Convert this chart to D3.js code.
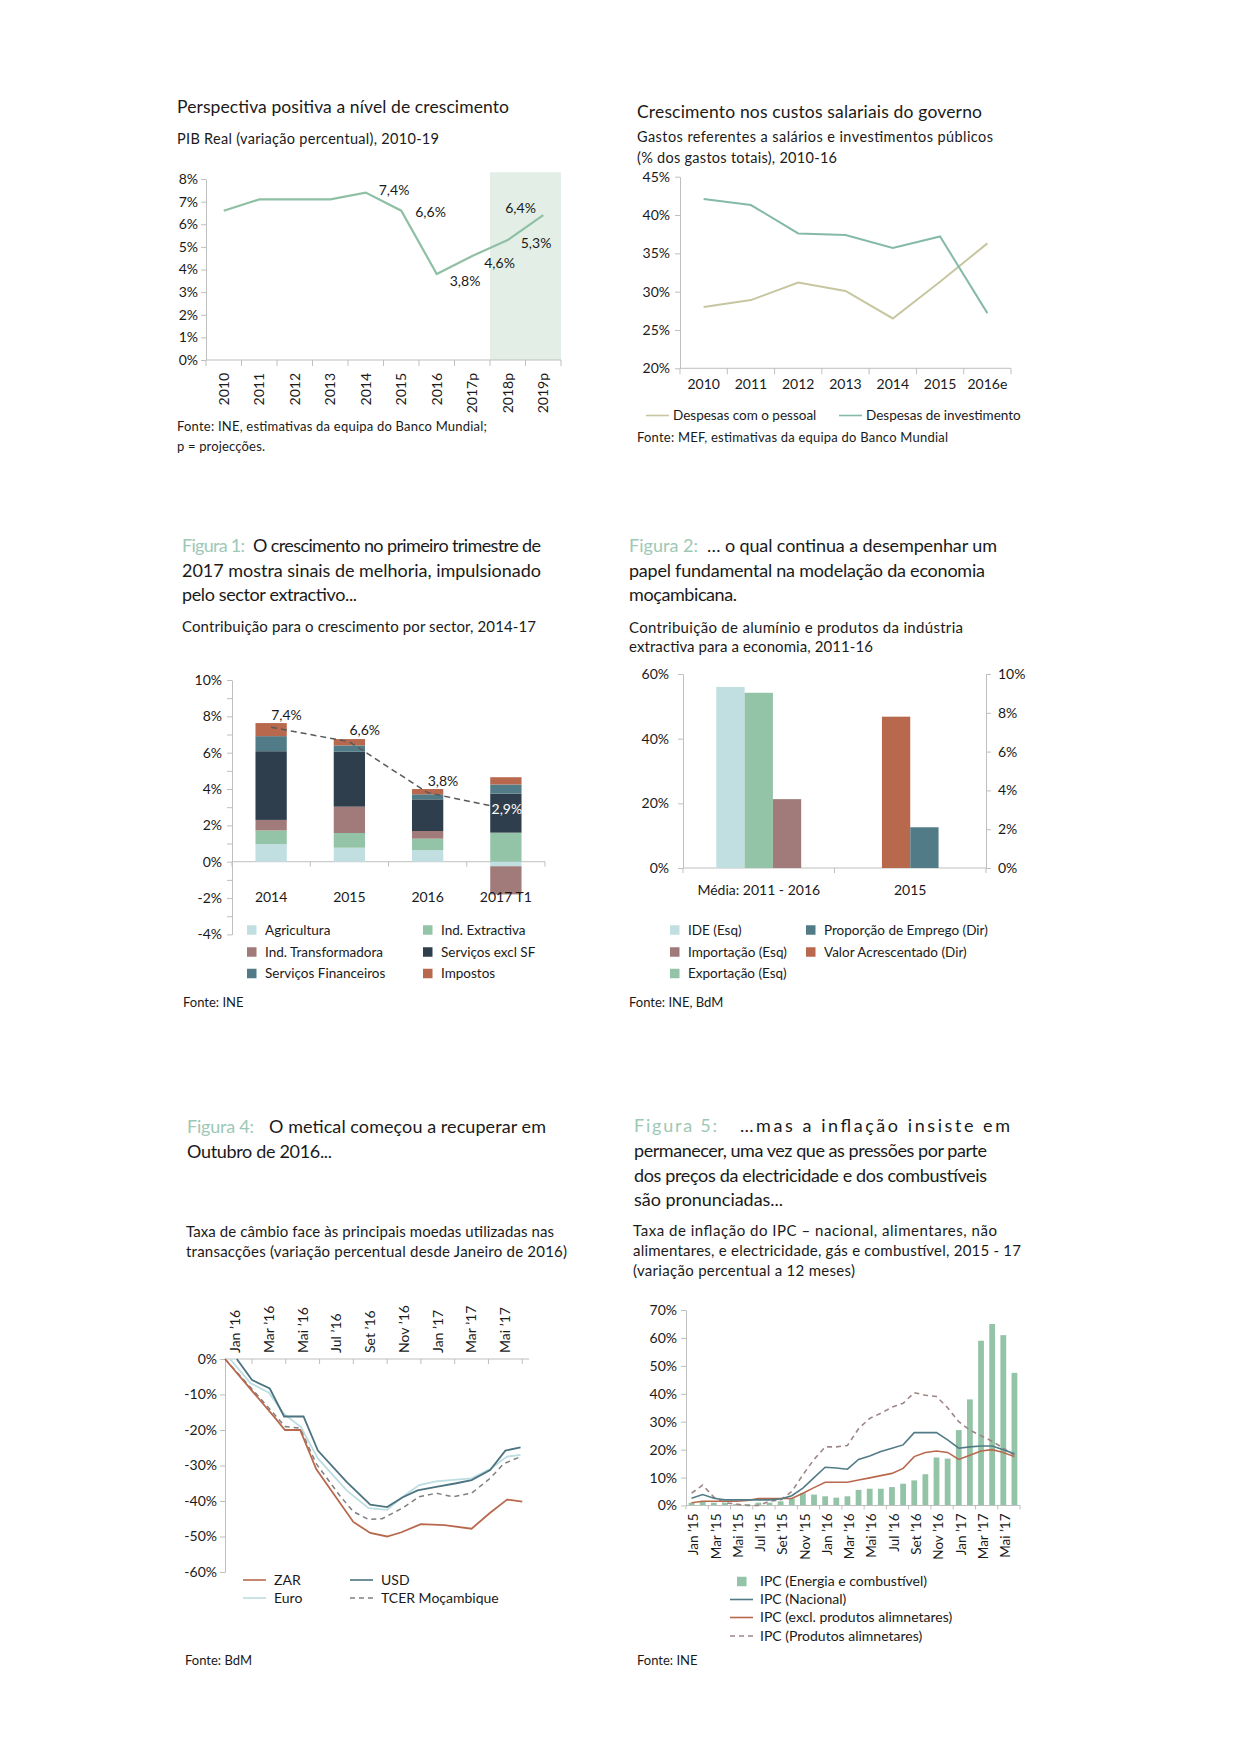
<!DOCTYPE html>
<html lang="pt">
<head>
<meta charset="utf-8">
<title>Moçambique - gráficos</title>
<script src="https://d3js.org/d3.v7.min.js"></script>
<style>
  body { margin: 0; background: #fff; }
  svg text { font-family: Lato, "Open Sans", sans-serif; }
</style>
</head>
<body>
<script>
// ---------------- data ----------------
// PIB real
const pibYears = ['2010', '2011', '2012', '2013', '2014', '2015', '2016', '2017p', '2018p', '2019p']
const pibValues = [6.6, 7.1, 7.1, 7.1, 7.4, 6.6, 3.8, 4.6, 5.3, 6.4]
const pibLabels = [null, null, null, null, '7,4%', '6,6%', '3,8%', '4,6%', '5,3%', '6,4%']
const pibTicks = [0, 1, 2, 3, 4, 5, 6, 7, 8]

// custos salariais
const salYears = ['2010', '2011', '2012', '2013', '2014', '2015', '2016e']
const salPessoal = [28.0, 28.9, 31.2, 30.1, 26.5, 31.3, 36.3]
const salInvest = [42.1, 41.3, 37.6, 37.4, 35.7, 37.2, 27.2]
const salTicks = [20, 25, 30, 35, 40, 45]

// Figura 1 - contribuição por sector
const secYears = ['2014', '2015', '2016', '2017 T1']
const sectors = ['Agricultura', 'Ind. Extractiva', 'Ind. Transformadora', 'Serviços excl SF', 'Serviços Financeiros', 'Impostos']
const secAgri = [0.97, 0.77, 0.64, -0.25]
const secExtr = [0.75, 0.81, 0.63, 1.6]
const secTransf = [0.58, 1.45, 0.42, -1.55]
const secServ = [3.78, 3.02, 1.74, 2.15]
const secFin = [0.83, 0.35, 0.28, 0.5]
const secImp = [0.72, 0.35, 0.29, 0.4]
const secTotal = [7.4, 6.6, 3.8, 2.9]
const secTotalLabels = ['7,4%', '6,6%', '3,8%', '2,9%']
const secTicks = [-4, -3, -2, -1, 0, 1, 2, 3, 4, 5, 6, 7, 8, 9, 10]

// Figura 2 - alumínio e indústria extractiva
const aluGroups = ['Média: 2011 - 2016', '2015']
const aluLeftSeries = ['IDE (Esq)', 'Exportação (Esq)', 'Importação (Esq)']
const aluLeftValues = [56.0, 54.2, 21.3]      // Média 2011-2016, eixo esquerdo
const aluRightSeries = ['Valor Acrescentado (Dir)', 'Proporção de Emprego (Dir)']
const aluRightValues = [7.8, 2.1]             // 2015, eixo direito
const aluLeftTicks = [0, 20, 40, 60]
const aluRightTicks = [0, 2, 4, 6, 8, 10]

// Figura 4 - taxa de câmbio (meses desde Jan 2016, variação %)
const fxMonthLabels = ['Jan ’16', 'Mar ’16', 'Mai ’16', 'Jul ’16', 'Set ’16', 'Nov ’16', 'Jan ’17', 'Mar ’17', 'Mai ’17']
const fxZAR = [[0, 0], [1, -5.6], [2, -11.2], [3, -16.8], [3.55, -20], [4.45, -20], [5.4, -31], [6.8, -40.5], [7.6, -45.9], [8.6, -49], [9.6, -50], [10.45, -48.8], [11.6, -46.5], [13, -46.8], [14.6, -47.8], [15.7, -43.3], [16.7, -39.6], [17.6, -40.2]]
const fxUSD = [[0.7, 0], [1.6, -5.9], [2.65, -8.3], [3.5, -16.2], [4.65, -16.2], [5.5, -25.8], [7.2, -34.6], [8.6, -41], [9.6, -41.7], [10.5, -39], [11.4, -37], [12.5, -36], [13.7, -35], [14.6, -34.1], [15.7, -31.3], [16.6, -25.8], [17.5, -24.9]]
const fxEuro = [[0.3, 0], [1.5, -6.8], [2.6, -9.5], [3.5, -15.5], [4.5, -19.2], [5.5, -28], [7.2, -37], [8.5, -42], [9.6, -42.5], [10.6, -38.5], [11.5, -35.5], [12.5, -34.5], [13.7, -34], [14.6, -33.6], [15.7, -31], [16.7, -27.5], [17.5, -27]]
const fxTCER = [[0, 0], [1, -5.3], [2, -10.6], [3, -16], [3.55, -19], [4.45, -19.5], [5.4, -29.5], [6.8, -38.5], [7.6, -43], [8.5, -45.2], [9.3, -45], [10.5, -42], [11.5, -38.8], [12.5, -37.8], [13.5, -38.8], [14.6, -37.8], [15.7, -33.6], [16.5, -29.5], [17.5, -27.5]]
const fxTicks = [-60, -50, -40, -30, -20, -10, 0]

// Figura 5 - inflação IPC (Jan 2015 - Jun 2017)
const ipcMonths = ['Jan ’15', 'Fev ’15', 'Mar ’15', 'Abr ’15', 'Mai ’15', 'Jun ’15', 'Jul ’15', 'Ago ’15', 'Set ’15', 'Out ’15', 'Nov ’15', 'Dez ’15',
  'Jan ’16', 'Fev ’16', 'Mar ’16', 'Abr ’16', 'Mai ’16', 'Jun ’16', 'Jul ’16', 'Ago ’16', 'Set ’16', 'Out ’16', 'Nov ’16', 'Dez ’16',
  'Jan ’17', 'Fev ’17', 'Mar ’17', 'Abr ’17', 'Mai ’17', 'Jun ’17']
const ipcEnergia = [1.0, 1.5, 1.0, 1.0, 0.5, 0.5, 1.0, 1.0, 1.5, 2.5, 4.4, 3.9, 3.3, 2.8, 3.3, 5.6, 6.0, 6.0, 6.6, 7.8, 9.0, 11.2, 17.2, 16.8, 27.0, 38.0, 59.0, 65.0, 61.0, 47.5]
const ipcNacional = [2.6, 3.9, 2.6, 2.0, 2.0, 2.0, 2.0, 2.0, 2.3, 3.5, 6.2, 10.0, 13.7, 13.4, 13.0, 16.5, 17.7, 19.3, 20.5, 21.7, 26.1, 26.1, 26.1, 23.5, 20.5, 21.0, 21.3, 21.3, 20.0, 18.5]
const ipcExcl = [1.0, 1.5, 1.5, 1.5, 1.5, 1.8, 2.5, 2.5, 2.5, 2.5, 4.4, 6.4, 8.3, 8.3, 8.3, 9.1, 9.9, 10.7, 11.5, 13.3, 17.5, 19.0, 19.5, 19.0, 16.5, 18.0, 19.5, 20.0, 19.0, 17.5]
const ipcAlim = [4.4, 7.3, 3.0, 1.0, 0.5, 0.0, 0.0, 1.5, 2.0, 5.0, 11.0, 16.5, 21.0, 21.0, 21.5, 27.5, 31.2, 33.0, 35.2, 36.6, 40.4, 39.5, 39.0, 35.0, 30.0, 27.0, 25.0, 23.0, 20.5, 18.0]
const ipcTicks = [0, 10, 20, 30, 40, 50, 60, 70]

// ---------------- style ----------------
const C = {
  text: '#1a1a1a', axis: '#bfbfbf', fig: '#9dc8b5',
  lightBlue: '#c1dfe0', green: '#94c4a7', mauve: '#a07b79', navy: '#2f3e4c',
  slate: '#517c87', rust: '#b8694d', shade: '#e3efe6',
  pib: '#8fc0a5', invest: '#84baa6', pessoal: '#c7c6a1',
  usd: '#4b7380', euro: '#bcdde1', grey: '#7f7f7f', alim: '#9e8585'
}

const svg = d3.select('body').append('svg').attr('width', 1239).attr('height', 1754)

function label(g, x, y, s, size, o) {
  o = o || {}
  const t = g.append('text').attr('x', x).attr('y', y).attr('font-size', size)
    .attr('fill', o.fill || C.text).text(s)
  if (o.len) t.attr('textLength', o.len).attr('lengthAdjust', 'spacing')
  if (o.anchor) t.attr('text-anchor', o.anchor)
  return t
}

function styleAxis(a, size) {
  a.select('.domain').attr('stroke', C.axis)
  a.selectAll('.tick line').attr('stroke', C.axis)
  a.selectAll('.tick text').attr('fill', C.text).attr('font-size', size)
    .attr('font-family', 'Lato, "Open Sans", sans-serif')
}

function vAxis(g, x, scale, ticks, fmt, size, pad, right) {
  const gen = (right ? d3.axisRight(scale) : d3.axisLeft(scale))
    .tickValues(ticks).tickFormat(fmt).tickSize(5).tickSizeOuter(0).tickPadding(pad)
  const a = g.append('g').attr('transform', `translate(${x},0)`).call(gen)
  styleAxis(a, size)
  return a
}

// horizontal axis line with ticks at band boundaries
function bandAxis(g, x, y, len, every) {
  const r = x.range()
  g.append('line').attr('x1', r[0]).attr('x2', r[1]).attr('y1', y).attr('y2', y).attr('stroke', C.axis)
  const step = every || 1
  const bounds = x.domain().filter((d, i) => i % step === 0).map(d => x(d)).concat([r[1]])
  g.selectAll(null).data(bounds).enter().append('line')
    .attr('x1', d => d).attr('x2', d => d).attr('y1', y).attr('y2', y + len).attr('stroke', C.axis)
}

function legendSwatch(g, x, y, color, s, size) {
  g.append('rect').attr('x', x).attr('y', y - 4.75).attr('width', 9.5).attr('height', 9.5).attr('fill', color)
  label(g, x + 18, y + 4.5, s, size)
}

function legendLine(g, x, y, color, dash, s, size, gap) {
  g.append('line').attr('x1', x).attr('x2', x + 23).attr('y1', y).attr('y2', y)
    .attr('stroke', color).attr('stroke-width', 1.6).attr('stroke-dasharray', dash || null)
  label(g, x + (gap || 31), y + 4.5, s, size)
}

// ---------------- chart 1: PIB ----------------
const g1 = svg.append('g')
label(g1, 177, 113, 'Perspectiva positiva a nível de crescimento', 17.5, { len: 332 })
label(g1, 177, 144, 'PIB Real (variação percentual), 2010-19', 14.5, { len: 262 })

const x1 = d3.scaleBand().domain(pibYears).range([206, 561])
const y1 = d3.scaleLinear().domain([0, 8]).range([360, 179])
g1.append('rect').attr('x', x1('2018p')).attr('y', y1(8.3))
  .attr('width', x1.range()[1] - x1('2018p')).attr('height', y1(0) - y1(8.3)).attr('fill', C.shade)
vAxis(g1, 206, y1, pibTicks, d => d + '%', 14, 3)
bandAxis(g1, x1, y1(0), 6)
pibYears.forEach(d => {
  g1.append('text').attr('transform', `translate(${x1(d) + x1.bandwidth() / 2},${y1(0) + 13}) rotate(-90)`)
    .attr('text-anchor', 'end').attr('dy', '0.35em').attr('font-size', 14).attr('fill', C.text).text(d)
})
const cx1 = d => x1(d) + x1.bandwidth() / 2
g1.append('path').datum(pibYears.map((d, i) => [d, pibValues[i]]))
  .attr('fill', 'none').attr('stroke', C.pib).attr('stroke-width', 2.2)
  .attr('d', d3.line().x(d => cx1(d[0])).y(d => y1(d[1])))
const pibOff = { '2014': [13, 2], '2015': [14, 6], '2016': [13, 12], '2017p': [12, 12], '2018p': [13, 8], '2019p': [-38, -2] }
pibYears.forEach((d, i) => {
  if (!pibLabels[i]) return
  const o = pibOff[d]
  label(g1, cx1(d) + o[0], y1(pibValues[i]) + o[1], pibLabels[i], 14)
})
label(g1, 177, 431, 'Fonte: INE, estimativas da equipa do Banco Mundial;', 13, { len: 310 })
label(g1, 177, 451, 'p = projecções.', 13, { len: 88 })

// ---------------- chart 2: custos salariais ----------------
const g2 = svg.append('g')
label(g2, 637, 118, 'Crescimento nos custos salariais do governo', 17.5, { len: 345 })
label(g2, 637, 142, 'Gastos referentes a salários e investimentos públicos', 14.5, { len: 356 })
label(g2, 637, 163, '(% dos gastos totais), 2010-16', 14.5, { len: 200 })

const x2 = d3.scaleBand().domain(salYears).range([680, 1011])
const y2 = d3.scaleLinear().domain([20, 45]).range([368.3, 176.7])
vAxis(g2, 680, y2, salTicks, d => d + '%', 14, 5)
bandAxis(g2, x2, y2(20), 6)
salYears.forEach(d => label(g2, x2(d) + x2.bandwidth() / 2, 389, d, 14, { anchor: 'middle' }))
const cx2 = d => x2(d) + x2.bandwidth() / 2
const line2 = d3.line().x(d => cx2(d[0])).y(d => y2(d[1]))
g2.append('path').datum(salYears.map((d, i) => [d, salPessoal[i]]))
  .attr('fill', 'none').attr('stroke', C.pessoal).attr('stroke-width', 2).attr('d', line2)
g2.append('path').datum(salYears.map((d, i) => [d, salInvest[i]]))
  .attr('fill', 'none').attr('stroke', C.invest).attr('stroke-width', 2).attr('d', line2)
legendLine(g2, 646, 415.5, C.pessoal, null, 'Despesas com o pessoal', 13.5, 27)
legendLine(g2, 839, 415.5, C.invest, null, 'Despesas de investimento', 13.5, 27)
label(g2, 637, 442, 'Fonte: MEF, estimativas da equipa do Banco Mundial', 13, { len: 311 })

// ---------------- chart 3: Figura 1 ----------------
const g3 = svg.append('g')
label(g3, 182, 552, 'Figura 1:', 18, { fill: C.fig, len: 63 })
label(g3, 253, 552, 'O crescimento no primeiro trimestre de', 18, { len: 288 })
label(g3, 182, 576.5, '2017 mostra sinais de melhoria, impulsionado', 18, { len: 359 })
label(g3, 182, 601, 'pelo sector extractivo...', 18, { len: 175 })
label(g3, 182, 632, 'Contribuição para o crescimento por sector, 2014-17', 15, { len: 354 })

const x3 = d3.scaleBand().domain(secYears).range([232, 545])
const y3 = d3.scaleLinear().domain([-4, 10]).range([934.4, 680])
vAxis(g3, 232, y3, secTicks, d => (d % 2 === 0 ? d + '%' : ''), 14, 5)
bandAxis(g3, x3, y3(0), 5)

const secCols = [C.lightBlue, C.green, C.mauve, C.navy, C.slate, C.rust]
const secValues = [secAgri, secExtr, secTransf, secServ, secFin, secImp]
const secRows = secYears.map((yr, i) => {
  const o = { year: yr }
  sectors.forEach((s, j) => { o[s] = secValues[j][i] })
  return o
})
const secStack = d3.stack().keys(sectors).offset(d3.stackOffsetDiverging)(secRows)
const bw3 = x3.bandwidth() * 0.4
const cx3 = d => x3(d) + x3.bandwidth() / 2
secStack.forEach((layer, j) => {
  g3.selectAll(null).data(layer).enter().append('rect')
    .attr('x', d => cx3(d.data.year) - bw3 / 2).attr('width', bw3)
    .attr('y', d => y3(Math.max(d[0], d[1]))).attr('height', d => Math.abs(y3(d[0]) - y3(d[1])))
    .attr('fill', secCols[j])
})
g3.append('path').datum(secYears.map((d, i) => [d, secTotal[i]]))
  .attr('fill', 'none').attr('stroke', '#595959').attr('stroke-width', 1.5).attr('stroke-dasharray', '6,4')
  .attr('d', d3.line().x(d => cx3(d[0])).y(d => y3(d[1])))
secYears.forEach((d, i) => {
  const last = i === secYears.length - 1
  if (last) label(g3, cx3(d) + 1, y3(secTotal[i]) + 5, secTotalLabels[i], 14, { anchor: 'middle', fill: '#fff' })
  else label(g3, cx3(d), y3(secTotal[i]) - 7, secTotalLabels[i], 14)
})
secYears.forEach(d => label(g3, cx3(d), 902, d, 14, { anchor: 'middle' }))
const secLegY = [930, 952, 973.5]
sectors.forEach((s, i) => {
  legendSwatch(g3, i % 2 === 0 ? 247 : 423, secLegY[Math.floor(i / 2)], secCols[i], s, 13.5)
})
label(g3, 183, 1007, 'Fonte: INE', 13)

// ---------------- chart 4: Figura 2 ----------------
const g4 = svg.append('g')
label(g4, 629, 552, 'Figura 2:', 18, { fill: C.fig, len: 69 })
label(g4, 707, 552, '… o qual continua a desempenhar um', 18, { len: 290 })
label(g4, 629, 576.5, 'papel fundamental na modelação da economia', 18, { len: 356 })
label(g4, 629, 601, 'moçambicana.', 18, { len: 108 })
label(g4, 629, 633, 'Contribuição de alumínio e produtos da indústria', 15, { len: 334 })
label(g4, 629, 652, 'extractiva para a economia, 2011-16', 15, { len: 244 })

const x4 = d3.scaleBand().domain(aluGroups).range([683, 986])
const y4L = d3.scaleLinear().domain([0, 60]).range([868, 674])
const y4R = d3.scaleLinear().domain([0, 10]).range([868, 674])
vAxis(g4, 683, y4L, aluLeftTicks, d => d + '%', 14, 9)
vAxis(g4, 986, y4R, aluRightTicks, d => d + '%', 14, 7, true)
bandAxis(g4, x4, y4L(0), 5)
const bw4 = 28.3
const leftCols = [C.lightBlue, C.green, C.mauve]
const rightCols = [C.rust, C.slate]
const inL = d3.scaleBand().domain(aluLeftSeries).range([0, bw4 * aluLeftSeries.length])
const inR = d3.scaleBand().domain(aluRightSeries).range([0, bw4 * aluRightSeries.length])
const c0 = x4(aluGroups[0]) + x4.bandwidth() / 2 - inL.range()[1] / 2
const c1 = x4(aluGroups[1]) + x4.bandwidth() / 2 - inR.range()[1] / 2
aluLeftSeries.forEach((s, i) => {
  g4.append('rect').attr('x', c0 + inL(s)).attr('width', inL.bandwidth())
    .attr('y', y4L(aluLeftValues[i])).attr('height', y4L(0) - y4L(aluLeftValues[i])).attr('fill', leftCols[i])
})
aluRightSeries.forEach((s, i) => {
  g4.append('rect').attr('x', c1 + inR(s)).attr('width', inR.bandwidth())
    .attr('y', y4R(aluRightValues[i])).attr('height', y4R(0) - y4R(aluRightValues[i])).attr('fill', rightCols[i])
})
aluGroups.forEach(d => label(g4, x4(d) + x4.bandwidth() / 2, 895, d, 14, { anchor: 'middle' }))
const aluLegend = [
  [aluLeftSeries[0], leftCols[0], 0, 0], [aluRightSeries[1], rightCols[1], 1, 0],
  [aluLeftSeries[2], leftCols[2], 0, 1], [aluRightSeries[0], rightCols[0], 1, 1],
  [aluLeftSeries[1], leftCols[1], 0, 2]
]
aluLegend.forEach(d => legendSwatch(g4, d[2] === 0 ? 670 : 806, secLegY[d[3]], d[1], d[0], 13.5))
label(g4, 629, 1007, 'Fonte: INE, BdM', 13)

// ---------------- chart 5: Figura 4 ----------------
const g5 = svg.append('g')
label(g5, 187, 1133, 'Figura 4:', 18, { fill: C.fig, len: 67 })
label(g5, 269, 1133, 'O metical começou a recuperar em', 18, { len: 277 })
label(g5, 187, 1158, 'Outubro de 2016...', 18, { len: 145 })
label(g5, 186, 1237, 'Taxa de câmbio face às principais moedas utilizadas nas', 15, { len: 368 })
label(g5, 186, 1257, 'transacções (variação percentual desde Janeiro de 2016)', 15, { len: 381 })

const x5 = d3.scaleLinear().domain([0, 18]).range([225, 529])
const y5 = d3.scaleLinear().domain([-60, 0]).range([1572, 1359])
vAxis(g5, 225, y5, fxTicks, d => d + '%', 14, 3)
g5.append('line').attr('x1', x5(0)).attr('x2', x5(18)).attr('y1', y5(0)).attr('y2', y5(0)).attr('stroke', C.axis)
g5.selectAll(null).data(d3.range(1.6, 18, 2)).enter().append('line')
  .attr('x1', d => x5(d)).attr('x2', d => x5(d)).attr('y1', y5(0)).attr('y2', y5(0) + 5).attr('stroke', C.axis)
fxMonthLabels.forEach((d, i) => {
  g5.append('text').attr('transform', `translate(${x5(i * 2 + 0.6)},${y5(0) - 6}) rotate(-90)`)
    .attr('text-anchor', 'start').attr('dy', '0.35em').attr('font-size', 14).attr('fill', C.text).text(d)
})
const line5 = d3.line().x(d => x5(d[0])).y(d => y5(d[1]))
g5.append('path').datum(fxEuro).attr('fill', 'none').attr('stroke', C.euro).attr('stroke-width', 1.8).attr('d', line5)
g5.append('path').datum(fxUSD).attr('fill', 'none').attr('stroke', C.usd).attr('stroke-width', 1.8).attr('d', line5)
g5.append('path').datum(fxTCER).attr('fill', 'none').attr('stroke', C.grey).attr('stroke-width', 1.5)
  .attr('stroke-dasharray', '5,4').attr('d', line5)
g5.append('path').datum(fxZAR).attr('fill', 'none').attr('stroke', C.rust).attr('stroke-width', 1.8).attr('d', line5)
legendLine(g5, 243, 1580, C.rust, null, 'ZAR', 14)
legendLine(g5, 350, 1580, C.usd, null, 'USD', 14)
legendLine(g5, 243, 1598, C.euro, null, 'Euro', 14)
legendLine(g5, 350, 1598, C.grey, '5,4', 'TCER Moçambique', 14)
label(g5, 185, 1665, 'Fonte: BdM', 13)

// ---------------- chart 6: Figura 5 ----------------
const g6 = svg.append('g')
label(g6, 634, 1132, 'Figura 5:', 18, { fill: C.fig, len: 83 })
label(g6, 740, 1132, '…mas a inflação insiste em', 18, { len: 270 })
label(g6, 634, 1157, 'permanecer, uma vez que as pressões por parte', 18, { len: 353 })
label(g6, 634, 1181.5, 'dos preços da electricidade e dos combustíveis', 18, { len: 353 })
label(g6, 634, 1206, 'são pronunciadas...', 18, { len: 149 })
label(g6, 633, 1236, 'Taxa de inflação do IPC – nacional, alimentares, não', 15, { len: 364 })
label(g6, 633, 1256, 'alimentares, e electricidade, gás e combustível, 2015 - 17', 15, { len: 388 })
label(g6, 633, 1276, '(variação percentual a 12 meses)', 15, { len: 222 })

const x6 = d3.scaleBand().domain(ipcMonths).range([686, 1020]).paddingInner(0.48).paddingOuter(0.24)
const x6b = d3.scaleBand().domain(ipcMonths).range([686, 1020])
const y6 = d3.scaleLinear().domain([0, 70]).range([1505.5, 1310])
vAxis(g6, 686, y6, ipcTicks, d => d + '%', 14, 4)
g6.selectAll(null).data(ipcMonths).enter().append('rect')
  .attr('x', (d, i) => x6(d)).attr('width', x6.bandwidth())
  .attr('y', (d, i) => y6(ipcEnergia[i])).attr('height', (d, i) => y6(0) - y6(ipcEnergia[i]))
  .attr('fill', C.green)
bandAxis(g6, x6b, y6(0), 4, 2)
const cx6 = d => x6b(d) + x6b.bandwidth() / 2
const line6 = d3.line().x(d => cx6(d[0])).y(d => y6(d[1]))
g6.append('path').datum(ipcMonths.map((d, i) => [d, ipcAlim[i]])).attr('fill', 'none')
  .attr('stroke', C.alim).attr('stroke-width', 1.6).attr('stroke-dasharray', '5,4').attr('d', line6)
g6.append('path').datum(ipcMonths.map((d, i) => [d, ipcExcl[i]])).attr('fill', 'none')
  .attr('stroke', C.rust).attr('stroke-width', 1.6).attr('d', line6)
g6.append('path').datum(ipcMonths.map((d, i) => [d, ipcNacional[i]])).attr('fill', 'none')
  .attr('stroke', C.slate).attr('stroke-width', 1.6).attr('d', line6)
ipcMonths.forEach((d, i) => {
  if (i % 2 !== 0) return
  g6.append('text').attr('transform', `translate(${cx6(d) + 2},${y6(0) + 8}) rotate(-90)`)
    .attr('text-anchor', 'end').attr('dy', '0.35em').attr('font-size', 13.5).attr('fill', C.text).text(d)
})
g6.append('rect').attr('x', 737).attr('y', 1581.5 - 4.75).attr('width', 9.5).attr('height', 9.5).attr('fill', C.green)
label(g6, 760, 1586, 'IPC (Energia e combustível)', 14)
legendLine(g6, 730, 1599.5, C.slate, null, 'IPC (Nacional)', 14, 30)
legendLine(g6, 730, 1617.5, C.rust, null, 'IPC (excl. produtos alimnetares)', 14, 30)
legendLine(g6, 730, 1636, C.alim, '5,4', 'IPC (Produtos alimnetares)', 14, 30)
label(g6, 637, 1665, 'Fonte: INE', 13)
</script>
</body>
</html>
